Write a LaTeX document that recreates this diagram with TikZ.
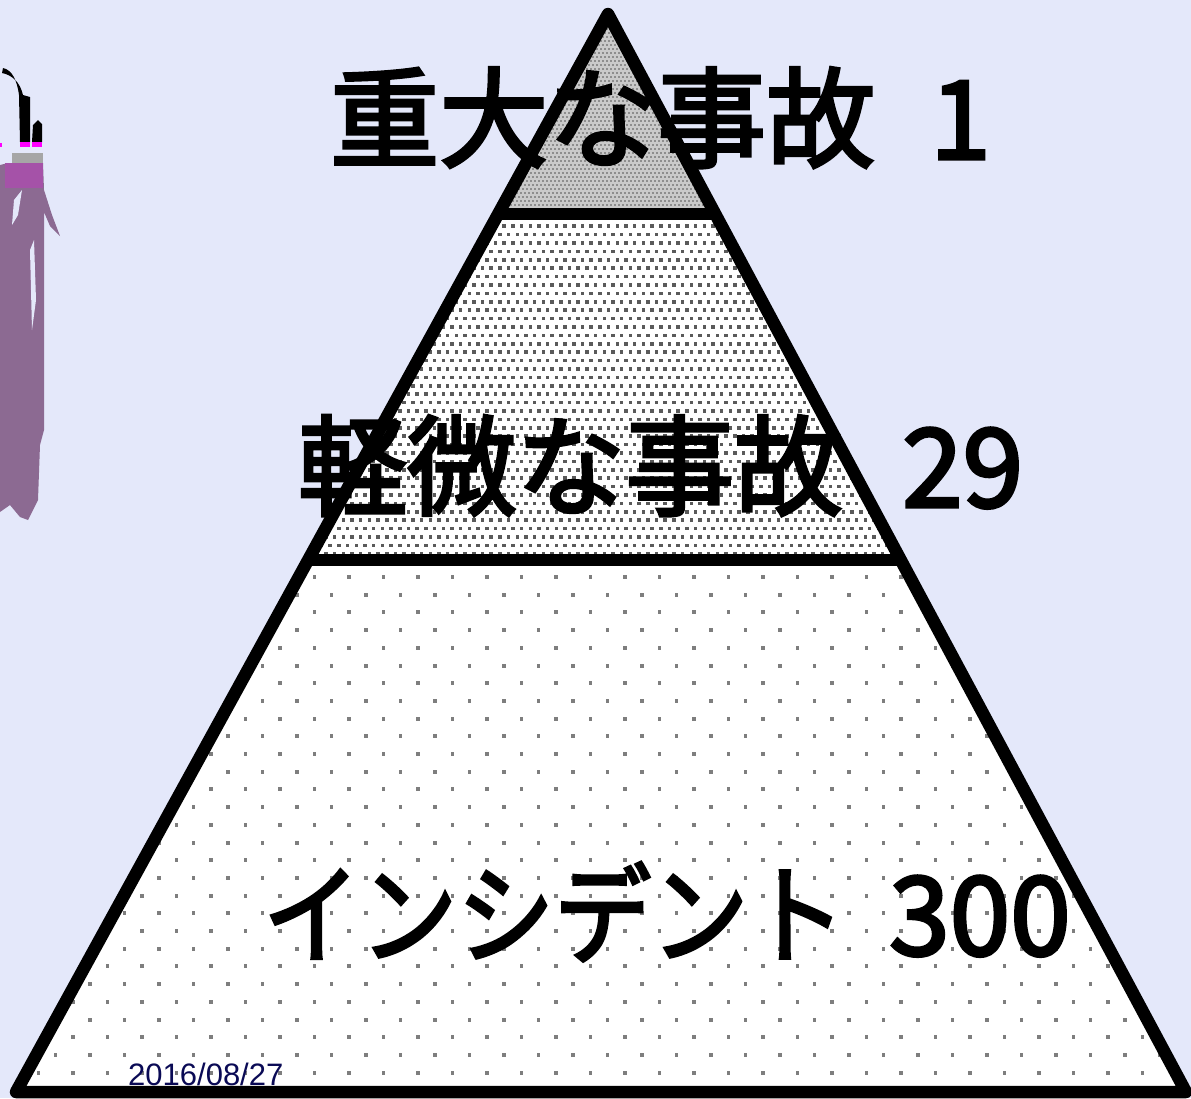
\documentclass[tikz,border=0pt]{standalone}
\usepackage{fontspec}
\setmainfont{Liberation Sans}
\newfontfamily\jp[FakeBold=3]{Noto Sans CJK JP}
\definecolor{bgc}{HTML}{E4E8FA}
\definecolor{topfill}{HTML}{CACACA}
\definecolor{topdot}{HTML}{8E8E8E}
\definecolor{middot}{HTML}{5A5A5A}
\definecolor{botdot}{HTML}{7E7E7E}
\definecolor{datec}{HTML}{0A0A55}
\definecolor{purp}{HTML}{8C6A92}
\definecolor{purp2}{HTML}{A552A8}
\definecolor{magc}{HTML}{FF00FF}
\tikzset{
  edge/.style={line width=12.5pt, line join=round, line cap=butt},
  bigtext/.style={inner sep=0pt, anchor=base west, font=\jp\fontsize{109}{112}\selectfont},
  datetext/.style={inner sep=0pt, anchor=base west, text=datec, font=\fontsize{31}{34}\selectfont}
}
\begin{document}
\begin{tikzpicture}[x=1pt,y=-1pt]
\useasboundingbox (0,0) rectangle (1191,1098);
\fill[bgc] (0,0) rectangle (1191,1098);
% decoration fragment at left
\fill[black] (3,68) .. controls (12,70) and (17,80) .. (19,95) -- (20,142) -- (30,142) -- (30,97) -- (23,95) .. controls (20,82) and (12,75) .. (2,73) -- cycle;
\fill[black] (32,142) -- (33,125) -- (38,120) -- (42,124) -- (42,142) -- cycle;
\fill[magc] (20,142) rectangle (30,147);
\fill[magc] (32,142) rectangle (42,147);
\fill[magc] (0,143) rectangle (2,147);
\fill[gray!70] (12,153) rectangle (43,163);
\fill[purp] (0,165) -- (8,163) -- (43,163) -- (44,190) -- (52,215) -- (60,236) -- (50,226) -- (44,212) -- (44,430) -- (40,445) -- (38,500) -- (28,520) -- (20,517) -- (10,505) -- (0,512) -- cycle;
\fill[purp2] (5,163) rectangle (43,188);
\fill[bgc] (14,200) -- (22,190) -- (18,215) -- (12,225) -- cycle;
\fill[bgc] (30,250) -- (34,240) -- (36,300) -- (32,330) -- cycle;
% pyramid coordinates
\coordinate (apex) at (608,14);
\coordinate (bl) at (16,1092);
\coordinate (br) at (1186,1092);
\coordinate (d1l) at (498,214);
\coordinate (d1r) at (715,214);
\coordinate (d2l) at (308,560);
\coordinate (d2r) at (901,560);
% top fill
\begin{scope}
\clip (apex) -- (d1l) -- (d1r) -- cycle;
\fill[topfill] (480,0) rectangle (730,220);
\foreach \i in {0,...,55}{
  \foreach \j in {0,...,58}{
    \fill[topdot] ({490+\j*4+mod(\i,2)*2},{4+\i*4}) rectangle +(2,2);
  }
}
\end{scope}
% middle fill
\begin{scope}
\clip (d1l) -- (d1r) -- (d2r) -- (d2l) -- cycle;
\fill[white] (290,200) rectangle (920,570);
\foreach \i in {0,...,41}{
  \foreach \j in {0,...,70}{
    \fill[middot] ({298+\j*8.7+mod(\i,2)*4.35},{216+\i*8.4}) rectangle +(3.5,3.5);
  }
}
\end{scope}
% bottom fill
\begin{scope}
\clip (d2l) -- (d2r) -- (br) -- (bl) -- cycle;
\fill[white] (0,550) rectangle (1191,1098);
\foreach \i in {0,...,30}{
  \foreach \j in {0,...,35}{
    \fill[botdot] ({2+\j*34.5+mod(\i,2)*17.25},{575+\i*17.7}) rectangle +(3.5,4);
  }
}
\end{scope}
% lines
\draw[edge] (d1l) -- (d1r);
\draw[edge] (d2l) -- (d2r);
\draw[edge] (apex) -- (bl) -- (br) -- cycle;
% texts
\node[bigtext] (t1) at (330,159) {重大な事故};
\node[bigtext] (n1) at (930,159) {1};
\node[bigtext] (t2) at (298,507) {軽微な事故};
\node[bigtext] (n2) at (902,507) {29};
\node[bigtext] (t3) at (263,955) {\scalebox{0.89}[1]{インシデント}};
\node[bigtext] (n3) at (889,955) {300};
\node[datetext] (date) at (128,1085) {2016/08/27};
\end{tikzpicture}
\end{document}
